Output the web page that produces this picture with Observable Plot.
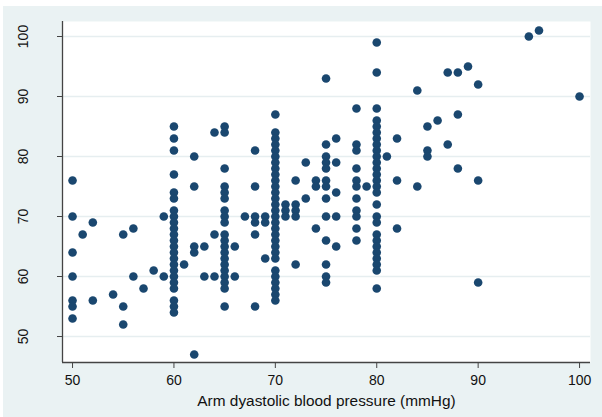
<!DOCTYPE html>
<html><head><meta charset="utf-8">
<script src="https://cdn.jsdelivr.net/npm/d3@7"></script>
<script src="https://cdn.jsdelivr.net/npm/@observablehq/plot@0.6"></script>
<style>
html,body{margin:0;padding:0;background:#fff;}
#wrap{position:relative;width:602px;height:417px;overflow:hidden;}
#bg{position:absolute;left:3px;top:6px;right:0;bottom:0;background:#eaf2f3;}
#chart{position:absolute;left:0;top:0;}
</style></head><body>
<div id="wrap"><div id="bg"></div><div id="chart"></div></div>
<script>
const xTicks = [50, 60, 70, 80, 90, 100];
const yTicks = [50, 60, 70, 80, 90, 100];
const xLabel = "Arm dyastolic blood pressure (mmHg)";

// Arm diastolic blood pressure values (x) and the y values observed at each
const armDBP = [50, 51, 52, 54, 55, 56, 57, 58, 59, 60, 61, 62, 63, 64, 65, 66, 67, 68, 69, 70,
  71, 72, 73, 74, 75, 76, 78, 79, 80, 81, 82, 84, 85, 86, 87, 88, 89, 90, 95, 96, 100];
const yAtDBP = [
  [76, 70, 64, 60, 56, 55, 53],
  [67],
  [69, 56],
  [57],
  [67, 55, 52],
  [68, 60],
  [58],
  [61],
  [70, 60],
  [85, 83, 81, 77, 74, 73, 71, 70, 69, 68, 67, 66, 65, 64, 63, 62, 61, 60, 59, 58, 56, 55, 54],
  [62],
  [80, 75, 65, 64, 47],
  [65, 60],
  [84, 67, 60],
  [85, 84, 78, 75, 74, 73, 71, 70, 69, 67, 66, 65, 64, 63, 62, 61, 60, 59, 58, 55],
  [65, 60],
  [70],
  [81, 75, 70, 69, 67, 55],
  [70, 69, 63],
  [87, 84, 83, 82, 81, 80, 79, 78, 77, 76, 75, 74, 73, 72, 71, 70, 69, 68, 67, 66, 65, 64, 63, 61, 60, 59, 58, 57, 56],
  [72, 71, 70],
  [76, 72, 71, 70, 62],
  [79, 73],
  [76, 75, 68],
  [93, 82, 80, 79, 78, 76, 75, 73, 70, 66, 62, 60, 59],
  [83, 79, 74, 70, 65],
  [88, 82, 81, 78, 76, 75, 73, 71, 70, 68, 66],
  [75],
  [99, 94, 88, 86, 85, 84, 83, 82, 81, 80, 79, 78, 77, 76, 75, 74, 72, 70, 69, 67, 66, 65, 64, 63, 62, 61, 58],
  [80],
  [83, 76, 68],
  [91, 75],
  [85, 81, 80],
  [86],
  [94, 82],
  [94, 87, 78],
  [95],
  [92, 76, 59],
  [100],
  [101],
  [90]
];

const xDomain = [49.01, 101.08];
const yDomain = [45.67, 102.5];

const data = armDBP.flatMap((x, i) => yAtDBP[i].map(y => ({x, y})));

const chart = Plot.plot({
  width: 602,
  height: 417,
  marginLeft: 62,
  marginRight: 12,
  marginTop: 21,
  marginBottom: 55,
  style: {background: "transparent", fontFamily: "'Liberation Sans', Arial, sans-serif", fontSize: "14px", color: "#111"},
  x: {domain: xDomain},
  y: {domain: yDomain},
  marks: [
    Plot.frame({fill: "white", stroke: null}),
    Plot.gridY(yTicks, {stroke: "#e6eef0", strokeOpacity: 1, strokeWidth: 1.5}),
    Plot.dot(data, {x: "x", y: "y", r: 4.3, fill: "#1a476f", stroke: null}),
    Plot.ruleX([xDomain[0]], {stroke: "#444", strokeWidth: 1.3}),
    Plot.ruleY([yDomain[0]], {stroke: "#444", strokeWidth: 1.3}),
    Plot.axisX(xTicks, {tickSize: 6, tickPadding: 7, label: null, stroke: "#444", fontSize: 14}),
    Plot.axisY(yTicks, {tickSize: 5, tickRotate: -90, tickPadding: 30, label: null, stroke: "#444", fontSize: 14}),
    Plot.text([xLabel], {text: d => d, frameAnchor: "bottom", dy: 43, lineAnchor: "bottom", fontSize: 15.4, fill: "#111"})
  ]
});
document.getElementById("chart").appendChild(chart);
</script>
</body></html>
